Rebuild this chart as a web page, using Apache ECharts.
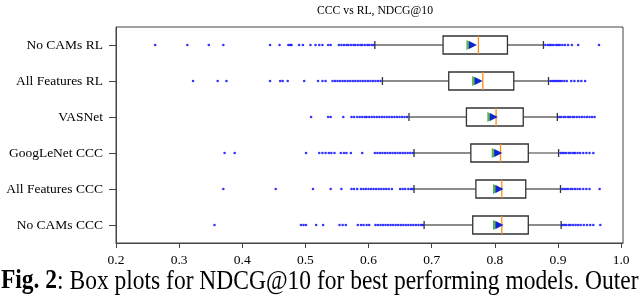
<!DOCTYPE html>
<html>
<head>
<meta charset="utf-8">
<script src="https://cdn.jsdelivr.net/npm/echarts@6/dist/echarts.min.js"></script>
<style>html,body{margin:0;padding:0;background:#fff;}#c{width:640px;height:298px;}</style>
</head>
<body>
<div id="c"></div>
<script>
// Categories, top to bottom
const categories = ['No CAMs RL', 'All Features RL', 'VASNet', 'GoogLeNet CCC', 'All Features CCC', 'No CAMs CCC'];
// [whisker low, Q1, median, Q3, whisker high]
const boxStats = [
  [0.610, 0.718, 0.774, 0.820, 0.877],
  [0.622, 0.727, 0.781, 0.830, 0.885],
  [0.664, 0.755, 0.802, 0.845, 0.899],
  [0.672, 0.762, 0.809, 0.853, 0.901],
  [0.672, 0.770, 0.811, 0.849, 0.904],
  [0.688, 0.765, 0.811, 0.853, 0.905]
];
const means = [0.763, 0.772, 0.796, 0.803, 0.805, 0.805];
const outliers = [
  [0.262, 0.313, 0.347, 0.370, 0.444, 0.459, 0.473, 0.476, 0.478, 0.490, 0.496, 0.508, 0.516, 0.522, 0.527, 0.536, 0.540, 0.553, 0.557, 0.561, 0.565, 0.568, 0.572, 0.576, 0.579, 0.583, 0.587, 0.590, 0.594, 0.598, 0.601, 0.605, 0.608,
   0.880, 0.884, 0.887, 0.890, 0.893, 0.897, 0.900, 0.903, 0.907, 0.911, 0.916, 0.922, 0.932, 0.965],
  [0.322, 0.361, 0.375, 0.444, 0.460, 0.464, 0.472, 0.498, 0.520, 0.527, 0.532, 0.543, 0.547, 0.551, 0.555, 0.559, 0.563, 0.567, 0.571, 0.575, 0.579, 0.583, 0.587, 0.591, 0.595, 0.599, 0.603, 0.607, 0.611, 0.615, 0.619,
   0.888, 0.891, 0.894, 0.897, 0.900, 0.903, 0.906, 0.910, 0.914, 0.921, 0.926, 0.932, 0.937, 0.943],
  [0.509, 0.536, 0.540, 0.560, 0.573, 0.577, 0.582, 0.586, 0.590, 0.594, 0.597, 0.601, 0.605, 0.609, 0.613, 0.617, 0.621, 0.625, 0.629, 0.633, 0.637, 0.641, 0.645, 0.649, 0.653, 0.657, 0.661,
   0.902, 0.905, 0.909, 0.912, 0.916, 0.919, 0.923, 0.926, 0.930, 0.934, 0.938, 0.942, 0.946, 0.950, 0.954, 0.958],
  [0.372, 0.388, 0.501, 0.522, 0.527, 0.532, 0.537, 0.541, 0.546, 0.556, 0.561, 0.565, 0.572, 0.590, 0.610, 0.614, 0.618, 0.622, 0.626, 0.630, 0.634, 0.638, 0.642, 0.646, 0.650, 0.654, 0.658, 0.662, 0.666, 0.670,
   0.904, 0.907, 0.910, 0.913, 0.917, 0.920, 0.924, 0.927, 0.931, 0.935, 0.940, 0.945, 0.950, 0.956],
  [0.370, 0.453, 0.512, 0.540, 0.557, 0.573, 0.577, 0.582, 0.588, 0.592, 0.596, 0.600, 0.604, 0.608, 0.612, 0.616, 0.620, 0.624, 0.628, 0.632, 0.637, 0.650, 0.654, 0.658, 0.663, 0.667, 0.670,
   0.907, 0.910, 0.913, 0.916, 0.920, 0.923, 0.927, 0.931, 0.935, 0.940, 0.945, 0.950, 0.966],
  [0.356, 0.493, 0.497, 0.501, 0.517, 0.528, 0.554, 0.559, 0.564, 0.583, 0.588, 0.592, 0.597, 0.601, 0.611, 0.615, 0.619, 0.623, 0.627, 0.631, 0.635, 0.639, 0.643, 0.647, 0.651, 0.655, 0.659, 0.663, 0.667, 0.671, 0.675, 0.679, 0.683, 0.686,
   0.907, 0.910, 0.913, 0.917, 0.920, 0.924, 0.928, 0.932, 0.936, 0.941, 0.946, 0.951, 0.956, 0.967]
];
const xTicks = [0.2, 0.3, 0.4, 0.5, 0.6, 0.7, 0.8, 0.9, 1.0];
const titleText = 'CCC vs RL, NDCG@10';
const captionText = '{b|Fig. 2}: Box plots for NDCG@10 for best performing models. Outer';

const serif = '"Liberation Serif", "Times New Roman", serif';
const chart = echarts.init(document.getElementById('c'), null, {renderer: 'canvas'});

const boxData = boxStats.map((s, i) => [i].concat(s));
const outlierData = [];
outliers.forEach((arr, i) => arr.forEach(v => outlierData.push([v, i])));
const meanData = means.map((m, i) => [m, i]);

chart.setOption({
  animation: false,
  title: {
    text: titleText, left: 370, top: 0, textAlign: 'center',
    textStyle: {fontFamily: serif, fontSize: 11.7, fontWeight: 'normal', color: '#000'}
  },
  grid: {left: 116, right: 17, top: 27, bottom: 55, show: true, borderColor: '#444', borderWidth: 1, backgroundColor: 'transparent'},
  xAxis: {
    type: 'value', min: 0.2, max: 1.003,
    axisLine: {show: true, lineStyle: {color: '#444'}},
    axisTick: {show: true, length: 5, lineStyle: {color: '#444'}, customValues: xTicks},
    axisLabel: {customValues: xTicks, formatter: v => v.toFixed(1), fontFamily: serif, fontSize: 13.5, color: '#000', margin: 10},
    splitLine: {show: false}
  },
  yAxis: {
    type: 'category', data: categories, inverse: true,
    axisLine: {show: true, lineStyle: {color: '#444'}},
    axisTick: {show: true, alignWithLabel: true, length: 7, lineStyle: {color: '#444'}},
    axisLabel: {fontFamily: serif, fontSize: 13.5, color: '#000', margin: 13},
    splitLine: {show: false}
  },
  series: [
    {
      type: 'custom',
      data: boxData,
      encode: {x: [1, 2, 3, 4, 5], y: 0},
      z: 2,
      renderItem: function (params, api) {
        const cat = api.value(0);
        const pt = i => api.coord([api.value(i), cat]);
        const band = api.size([0, 1])[1];
        const h = band * 0.5;
        const capH = band * 0.22;
        const pMin = pt(1), pQ1 = pt(2), pMed = pt(3), pQ3 = pt(4), pMax = pt(5);
        const y = pMed[1];
        const wStyle = {stroke: '#666', lineWidth: 1.3};
        return {
          type: 'group',
          children: [
            {type: 'line', shape: {x1: pMin[0], y1: y, x2: pQ1[0], y2: y}, style: wStyle},
            {type: 'line', shape: {x1: pQ3[0], y1: y, x2: pMax[0], y2: y}, style: wStyle},
            {type: 'line', shape: {x1: pMin[0], y1: y - capH / 2, x2: pMin[0], y2: y + capH / 2}, style: {stroke: '#333', lineWidth: 1.3}},
            {type: 'line', shape: {x1: pMax[0], y1: y - capH / 2, x2: pMax[0], y2: y + capH / 2}, style: {stroke: '#333', lineWidth: 1.3}},
            {type: 'rect', shape: {x: pQ1[0], y: y - h / 2, width: pQ3[0] - pQ1[0], height: h}, style: {fill: '#fff', stroke: '#333', lineWidth: 1.3}},
            {type: 'line', shape: {x1: pMed[0], y1: y - h / 2, x2: pMed[0], y2: y + h / 2}, style: {stroke: '#ff8c1a', lineWidth: 1.3}}
          ]
        };
      }
    },
    {
      type: 'scatter', data: outlierData, symbol: 'circle', symbolSize: 2.6,
      itemStyle: {color: '#0000ff'}, z: 3
    },
    {
      type: 'scatter', data: meanData, symbol: 'triangle', symbolRotate: -90, symbolSize: 10,
      itemStyle: {color: '#2ca02c'}, z: 4
    },
    {
      type: 'scatter', data: meanData, symbol: 'triangle', symbolRotate: -90, symbolSize: 8, symbolOffset: [1.5, 0],
      itemStyle: {color: '#0000ee'}, z: 5
    }
  ],
  graphic: [
    {
      type: 'text', x: 1, y: 268, scaleX: 0.87,
      style: {
        text: captionText, fontFamily: serif, fontSize: 27, fill: '#000', verticalAlign: 'top',
        rich: {b: {fontFamily: serif, fontSize: 27, fontWeight: 'bold', fill: '#000'}}
      }
    }
  ]
});
</script>
</body>
</html>
